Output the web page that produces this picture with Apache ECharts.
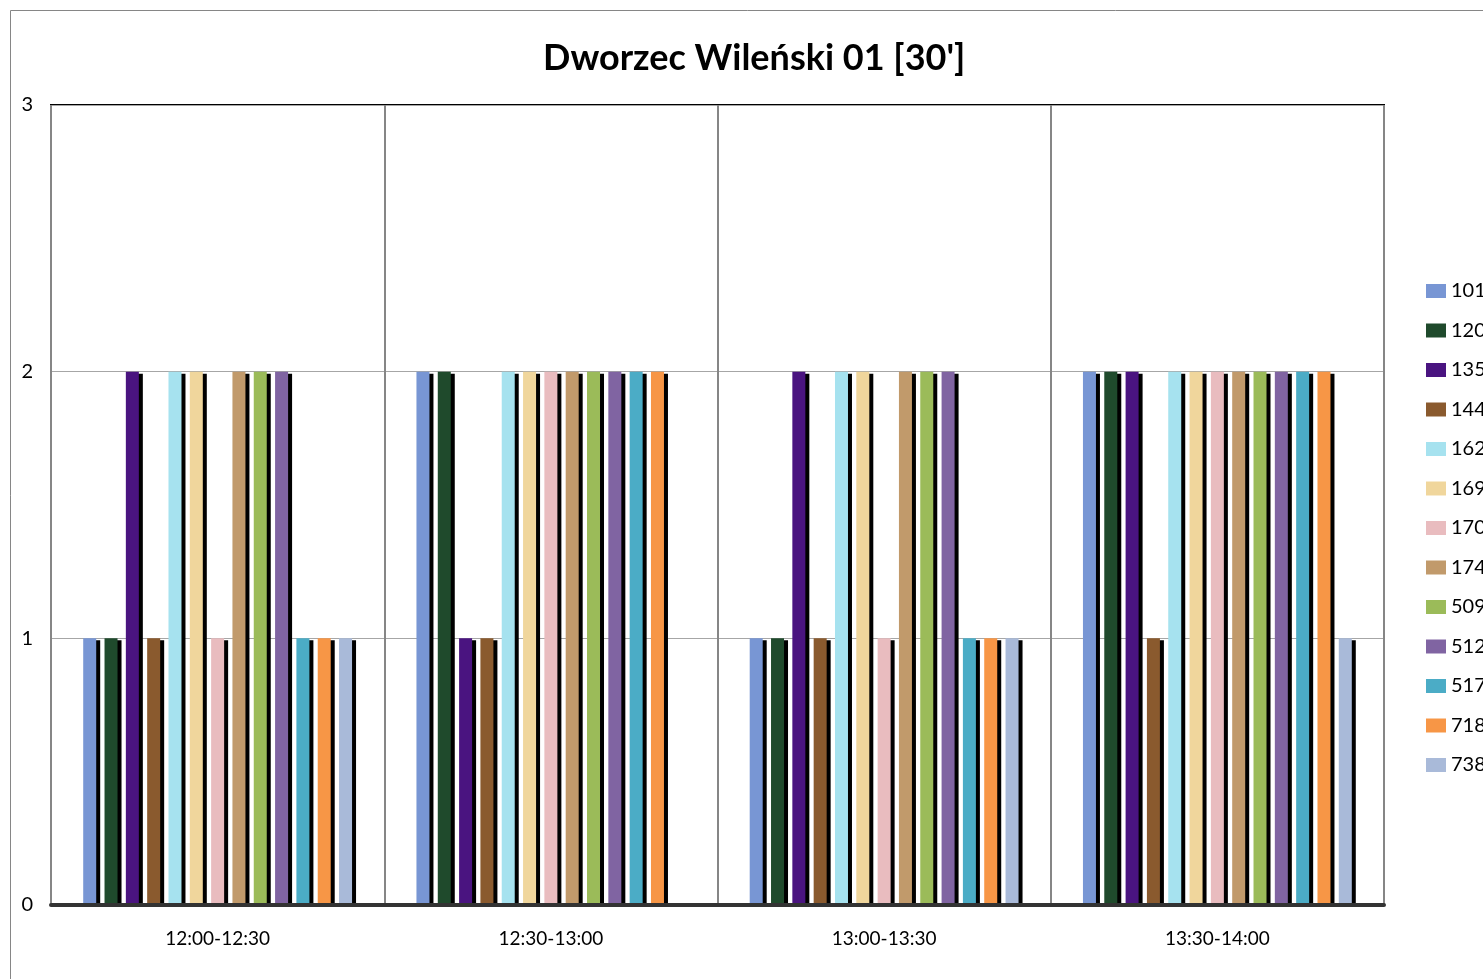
<!DOCTYPE html>
<html><head><meta charset="utf-8">
<script src="https://cdn.jsdelivr.net/npm/echarts@6/dist/echarts.min.js"></script>
<style>html,body{margin:0;padding:0;background:#fff}#c{width:1483px;height:979px}</style>
</head><body><div id="c"></div>
<script>
const categories = ['12:00-12:30','12:30-13:00','13:00-13:30','13:30-14:00'];
const seriesNames = ['101','120','135','144','162','169','170','174','509','512','517','718','738'];
const s101 = [1,2,1,2];
const s120 = [1,2,1,2];
const s135 = [2,1,2,2];
const s144 = [1,1,1,1];
const s162 = [2,2,2,2];
const s169 = [2,2,2,2];
const s170 = [1,2,1,2];
const s174 = [2,2,2,2];
const s509 = [2,2,2,2];
const s512 = [2,2,2,2];
const s517 = [1,2,1,2];
const s718 = [1,2,1,2];
const s738 = [1,0,1,1];
const yTicks = [0,1,2,3];
const values = [s101,s120,s135,s144,s162,s169,s170,s174,s509,s512,s517,s718,s738];
const colors = ['#7896d4','#1f4a2c','#4a1480','#8a5a2e','#a6e2ef','#f0d69c','#e9bcbf','#c19a6b','#9bbb59','#8064a2','#4bacc6','#f79646','#a9bad9'];
const FONT = 'Lato, "Open Sans", sans-serif';
const chart = echarts.init(document.getElementById('c'));
chart.setOption({
  animation:false,
  backgroundColor:'#fff',
  title:{text:"Dworzec Wileński 01 [30']",left:543,top:40,padding:0,
    textStyle:{fontFamily:FONT,fontWeight:'bold',fontSize:36,color:'#000'}},
  legend:{orient:'vertical',left:1426,top:281,padding:0,itemWidth:20,itemHeight:14,itemGap:19.5,
    icon:'rect',data:seriesNames,
    textStyle:{fontFamily:FONT,fontSize:20,color:'#000',lineHeight:19}},
  grid:{left:51,right:99,top:105,bottom:74,show:true,borderColor:'#000',borderWidth:2,containLabel:false},
  xAxis:{type:'category',data:categories,z:10,
    axisLine:{show:true,lineStyle:{color:'#333',width:4}},
    axisTick:{show:false},
    splitLine:{show:true,lineStyle:{color:'#868686',width:2}},
    axisLabel:{fontFamily:FONT,fontSize:19,color:'#000',margin:24}},
  yAxis:{type:'value',min:yTicks[0],max:yTicks[yTicks.length-1],interval:1,
    axisLine:{show:false},axisTick:{show:false},
    splitLine:{show:true,lineStyle:{color:'#a6a6a6',width:1}},
    axisLabel:{fontFamily:FONT,fontSize:20,color:'#000',margin:18}},
  series: seriesNames.map((n,i)=>({
    name:n,type:'bar',data:values[i],barWidth:13,barGap:'64%',
    itemStyle:{color:colors[i],borderWidth:0,
      shadowColor:'#000',shadowOffsetX:4,shadowOffsetY:2,shadowBlur:0}
  })),
  graphic:[{type:'rect',shape:{x:10.5,y:10.5,width:1500,height:1000},
    style:{fill:'none',stroke:'#868686',lineWidth:1},silent:true,z:-1}]
});
</script></body></html>
